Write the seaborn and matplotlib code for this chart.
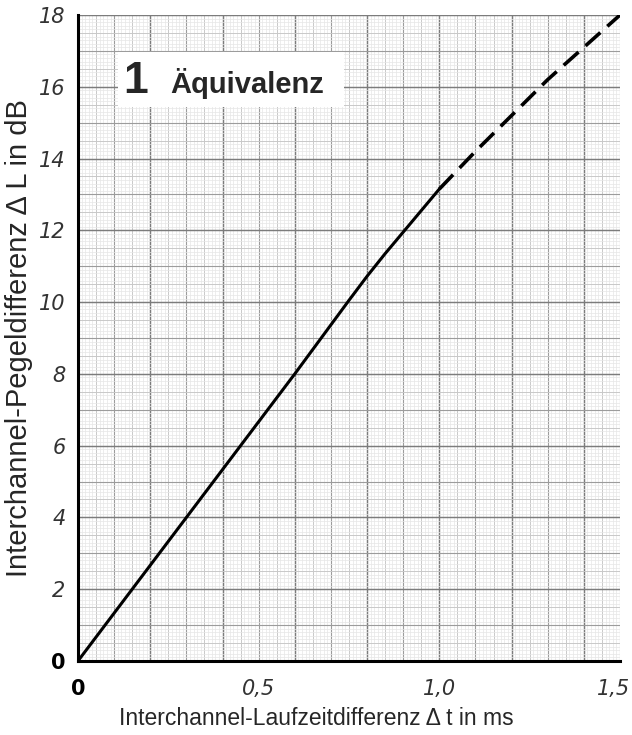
import numpy as np
import pandas as pd
import matplotlib
matplotlib.use("Agg")
import matplotlib.pyplot as plt
import matplotlib.transforms as mtransforms
import seaborn as sns
from matplotlib.patches import Rectangle

# Daten
solid_t = [0.0, 0.15, 0.30, 0.45, 0.60, 0.75, 0.80, 0.85, 0.90, 0.95, 1.0]
solid_l = [0.0, 2.0, 4.0, 6.0, 8.0, 10.05, 10.72, 11.35, 11.95, 12.55, 13.15]
dash_t = [1.0, 1.1, 1.2, 1.3, 1.4, 1.5]
dash_l = [13.15, 14.2, 15.2, 16.2, 17.1, 18.0]

x_ticks = [0, 0.5, 1.0, 1.5]
x_labels = ["0", "0,5", "1,0", "1,5"]
y_ticks = [0, 2, 4, 6, 8, 10, 12, 14, 16, 18]

sns.set_style("white")
plt.rcParams['font.family'] = ['Liberation Sans', 'DejaVu Sans']

fig = plt.figure(figsize=(6.32, 7.35), dpi=100)
ax = fig.add_axes([0.1234, 0.1007, 0.8576, 0.8789])
ax.set_xlim(0, 1.5)
ax.set_ylim(0, 18)

# Millimeterpapier
for step, col, lw in [(0.01, "#e6e6e6", 0.5), (0.05, "#c4c4c4", 0.6),
                      (0.1, "#9c9c9c", 0.8), (0.2, "#7c7c7c", 1.0)]:
    ax.vlines(np.arange(0, 1.5001, step), 0, 18, colors=col, lw=lw, zorder=0)
for step, col, lw in [(0.1, "#e6e6e6", 0.5), (0.5, "#c4c4c4", 0.6),
                      (1.0, "#9c9c9c", 0.8), (2.0, "#7c7c7c", 1.0)]:
    ax.hlines(np.arange(0, 18.001, step), 0, 1.5, colors=col, lw=lw, zorder=0)

solid = pd.DataFrame({"t": solid_t, "L": solid_l})
dash = pd.DataFrame({"t": dash_t, "L": dash_l})
sns.lineplot(data=solid, x="t", y="L", color="black", lw=2.2, ax=ax, zorder=3)
sns.lineplot(data=dash, x="t", y="L", color="black", lw=2.6, ax=ax, zorder=3,
             linestyle=(0, (5.5, 2.6)))

for s in ["top", "right"]:
    ax.spines[s].set_visible(False)
for s in ["left", "bottom"]:
    ax.spines[s].set_linewidth(2.2)
    ax.spines[s].set_color("black")

ax.set_xticks(x_ticks)
ax.set_xticklabels(x_labels)
ax.set_yticks(y_ticks)
ax.tick_params(axis="y", direction="out", length=7, width=1.5, color="black",
               labelsize=15, labelcolor="#333333", pad=2)
ax.tick_params(axis="x", direction="inout", length=10, width=1.8, color="black",
               labelsize=15, labelcolor="#333333", pad=8)
for lab in ax.get_xticklabels() + ax.get_yticklabels():
    lab.set_fontstyle("italic")
    lab.set_family(["DejaVu Sans"])
for lab in [ax.get_xticklabels()[0], ax.get_yticklabels()[0]]:
    lab.set_fontweight("bold")
    lab.set_fontstyle("normal")
    lab.set_color("black")
# letzte Beschriftung etwas nach links, damit sie nicht abgeschnitten wird
last = ax.get_xticklabels()[-1]
last.set_transform(last.get_transform() +
                   mtransforms.ScaledTranslation(-0.06, 0, fig.dpi_scale_trans))

ax.set_xlabel("Interchannel-Laufzeitdifferenz Δ t in ms", fontsize=16.5,
              labelpad=6)
ax.xaxis.set_label_coords(0.44, -0.072)
ax.set_ylabel("Interchannel-Pegeldifferenz Δ L in dB", fontsize=21, labelpad=4)

# Titelkasten
ax.add_patch(Rectangle((0.11, 15.44), 0.625, 1.53, facecolor="white",
                       edgecolor="none", zorder=4))
ax.text(0.125, 16.15, "1", fontsize=32, fontweight="bold", va="center",
        zorder=5)
ax.text(0.255, 16.1, "Äquivalenz", fontsize=21, fontweight="bold",
        va="center", zorder=5)

fig.savefig("out.png", dpi=100)
